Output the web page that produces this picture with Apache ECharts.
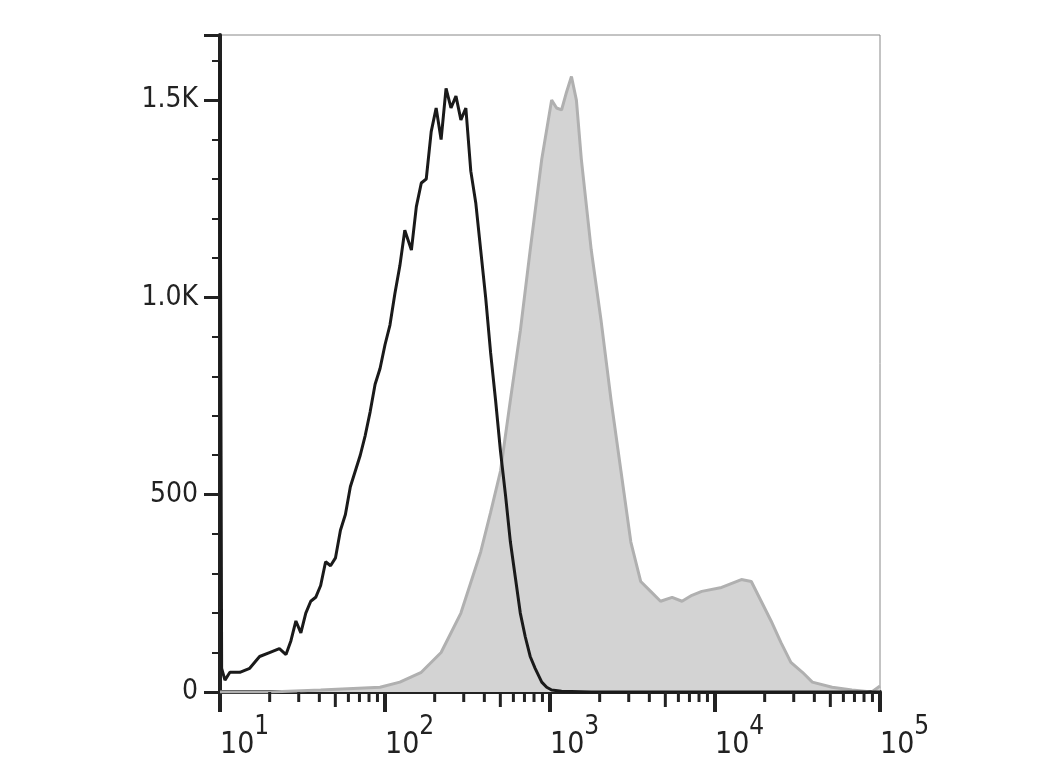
<!DOCTYPE html>
<html><head><meta charset="utf-8">
<script src="https://cdn.jsdelivr.net/npm/echarts@6/dist/echarts.min.js"></script>
<style>html,body{margin:0;background:#fff}#main{width:1040px;height:780px}</style>
</head><body><div id="main"></div>
<script>
// x values are log10 of fluorescence intensity
const blackX = [1.0, 1.01, 1.03, 1.06, 1.12, 1.18, 1.24, 1.30, 1.36, 1.40, 1.43, 1.46, 1.49, 1.52, 1.55, 1.58, 1.61, 1.64, 1.67, 1.70, 1.73, 1.76, 1.79, 1.82, 1.85, 1.88, 1.91, 1.94, 1.97, 2.00, 2.03, 2.06, 2.09, 2.12, 2.16, 2.19, 2.22, 2.25, 2.28, 2.31, 2.34, 2.37, 2.40, 2.43, 2.46, 2.49, 2.52, 2.55, 2.58, 2.61, 2.64, 2.67, 2.70, 2.73, 2.76, 2.79, 2.82, 2.85, 2.88, 2.91, 2.95, 2.98, 3.01, 3.07, 3.25, 3.55, 3.8, 4.2, 5.0];
const blackY = [1600, 60, 30, 50, 50, 60, 90, 100, 110, 95, 130, 180, 150, 200, 230, 240, 270, 330, 320, 340, 410, 450, 520, 560, 600, 650, 710, 780, 820, 880, 930, 1010, 1080, 1170, 1120, 1230, 1290, 1300, 1420, 1480, 1400, 1530, 1480, 1510, 1450, 1480, 1320, 1240, 1120, 1000, 860, 740, 610, 500, 380, 290, 200, 140, 90, 60, 25, 12, 5, 2, 0, 0, 0, 0, 0];
const grayX = [1.0, 1.30, 1.61, 1.97, 2.09, 2.22, 2.34, 2.46, 2.58, 2.64, 2.70, 2.76, 2.82, 2.88, 2.95, 3.01, 3.04, 3.07, 3.10, 3.13, 3.16, 3.19, 3.25, 3.31, 3.37, 3.43, 3.49, 3.55, 3.61, 3.67, 3.74, 3.80, 3.86, 3.92, 4.04, 4.16, 4.22, 4.28, 4.34, 4.40, 4.46, 4.53, 4.59, 4.71, 4.83, 4.95, 5.0];
const grayY = [0, 0, 5, 12, 25, 50, 100, 200, 355, 455, 560, 740, 915, 1120, 1350, 1500, 1480, 1475, 1520, 1560, 1500, 1350, 1120, 940, 740, 560, 380, 280, 255, 230, 240, 230, 245, 255, 265, 285, 280, 230, 180, 125, 75, 50, 25, 12, 5, 0, 15];
const minorTicks = [];
for (let d = 1; d < 5; d++) for (let k = 2; k <= 9; k++) minorTicks.push([Math.log10(k) + d, k === 5 ? 15 : 10]);

const zip = (xs, ys) => xs.map((x, i) => [x, ys[i]]);
const font = '"DejaVu Sans Condensed", "DejaVu Sans", sans-serif';

let options = {
  animation: false,
  grid: { left: 220, right: 160, top: 35, bottom: 88, show: true, borderColor: '#888', borderWidth: 1 },
  xAxis: {
    type: 'value', min: 1, max: 5, interval: 1,
    axisLine: { lineStyle: { color: '#222', width: 4 } },
    axisTick: { length: 20, lineStyle: { color: '#222', width: 4 } },
    splitLine: { show: false },
    axisLabel: {
      margin: 22, align: 'left', formatter: v => '{b|10}{s|' + v + '}',
      rich: {
        b: { fontSize: 30, color: '#222', fontFamily: font, lineHeight: 46, verticalAlign: 'bottom' },
        s: { fontSize: 26, color: '#222', fontFamily: font, lineHeight: 46, verticalAlign: 'top' }
      }
    }
  },
  yAxis: {
    type: 'value', min: 0, max: 1665, interval: 500,
    axisLine: { show: true, lineStyle: { color: '#222', width: 4 } },
    axisTick: { show: true, length: 16, lineStyle: { color: '#222', width: 3 } },
    minorTick: { show: true, splitNumber: 5, length: 8, lineStyle: { color: '#222', width: 2 } },
    splitLine: { show: false },
    axisLabel: {
      margin: 22, fontSize: 28, color: '#222', fontFamily: font, showMaxLabel: false,
      formatter: v => v >= 1000 ? (v / 1000).toFixed(1) + 'K' : String(v)
    }
  },
  series: [
    {
      type: 'line', data: zip(grayX, grayY), symbol: 'none', z: 2,
      lineStyle: { color: '#b0b0b0', width: 3 },
      areaStyle: { color: '#d3d3d3', opacity: 1 }
    },
    {
      type: 'line', data: zip(blackX, blackY), symbol: 'none', z: 3,
      lineStyle: { color: '#1a1a1a', width: 3 }
    },
    {
      type: 'custom', data: minorTicks, clip: false, z: 5,
      renderItem: (params, api) => {
        const p = api.coord([api.value(0), 0]);
        return { type: 'line', shape: { x1: p[0], y1: p[1], x2: p[0], y2: p[1] + api.value(1) },
          style: { stroke: '#222', lineWidth: 3 } };
      }
    }
  ]
};
let myChart = echarts.init(document.getElementById('main'));
myChart.setOption(options);
</script></body></html>
